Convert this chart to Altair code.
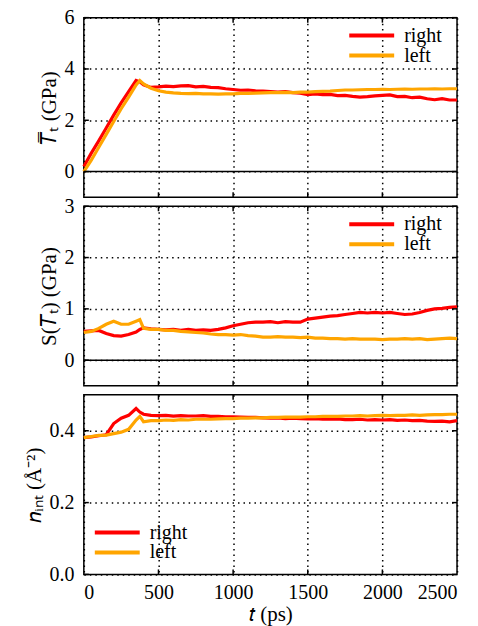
import altair as alt
import pandas as pd

FONT = "Liberation Serif"

t = [0, 50, 100, 150, 200, 250, 300, 350, 375, 400, 450, 500, 550, 600, 650, 700,
     750, 800, 850, 900, 950, 1000, 1050, 1100, 1150, 1200, 1250, 1300, 1350, 1400,
     1450, 1500, 1550, 1600, 1650, 1700, 1750, 1800, 1850, 1900, 1950, 2000, 2050,
     2100, 2150, 2200, 2250, 2300, 2350, 2400, 2450, 2500]

T_right = [0.2, 0.72, 1.2, 1.7, 2.2, 2.68, 3.12, 3.55, 3.5, 3.38, 3.28, 3.3, 3.33, 3.31,
           3.34, 3.35, 3.3, 3.32, 3.28, 3.27, 3.23, 3.2, 3.17, 3.18, 3.15, 3.14, 3.12,
           3.1, 3.12, 3.08, 3.06, 3.0, 3.03, 3.0, 3.01, 2.96, 2.97, 2.93, 2.9, 2.92,
           2.95, 2.97, 2.99, 2.92, 2.93, 2.88, 2.9, 2.84, 2.8, 2.84, 2.79, 2.79]
T_left = [0.0, 0.45, 0.95, 1.45, 1.95, 2.45, 2.9, 3.38, 3.55, 3.42, 3.25, 3.15, 3.1,
          3.07, 3.05, 3.04, 3.05, 3.03, 3.03, 3.02, 3.03, 3.03, 3.05, 3.05, 3.06, 3.07,
          3.08, 3.08, 3.09, 3.08, 3.1, 3.1, 3.12, 3.13, 3.14, 3.16, 3.18, 3.18, 3.19,
          3.2, 3.2, 3.21, 3.2, 3.21, 3.22, 3.21, 3.22, 3.22, 3.23, 3.22, 3.23, 3.23]

S_right = [0.56, 0.57, 0.58, 0.52, 0.48, 0.47, 0.5, 0.55, 0.6, 0.63, 0.61, 0.6, 0.59,
           0.6, 0.58, 0.6, 0.58, 0.59, 0.58, 0.6, 0.63, 0.67, 0.7, 0.73, 0.74, 0.74,
           0.75, 0.73, 0.75, 0.74, 0.74, 0.8, 0.82, 0.84, 0.86, 0.87, 0.89, 0.91, 0.93,
           0.92, 0.93, 0.92, 0.93, 0.91, 0.89, 0.9, 0.93, 0.97, 1.0, 1.01, 1.03, 1.04]
S_left = [0.54, 0.56, 0.62, 0.7, 0.76, 0.7, 0.7, 0.76, 0.79, 0.62, 0.6, 0.6, 0.58, 0.58,
          0.56, 0.55, 0.54, 0.53, 0.51, 0.5, 0.5, 0.49, 0.5, 0.48, 0.47, 0.45, 0.45,
          0.46, 0.45, 0.45, 0.44, 0.45, 0.43, 0.43, 0.42, 0.42, 0.41, 0.42, 0.41, 0.41,
          0.41, 0.4, 0.41, 0.41, 0.42, 0.41, 0.42, 0.4, 0.41, 0.42, 0.43, 0.42]

n_right = [0.381, 0.383, 0.386, 0.389, 0.42, 0.435, 0.443, 0.462, 0.452, 0.446, 0.443,
           0.442, 0.443, 0.441, 0.442, 0.441, 0.441, 0.442, 0.44, 0.44, 0.439, 0.439,
           0.438, 0.437, 0.437, 0.436, 0.435, 0.436, 0.434, 0.435, 0.434, 0.433, 0.434,
           0.432, 0.432, 0.433, 0.431, 0.431, 0.432, 0.43, 0.431, 0.43, 0.431, 0.429,
           0.43, 0.428, 0.429, 0.427, 0.426, 0.427, 0.425, 0.428]
n_left = [0.381, 0.384, 0.387, 0.388, 0.392, 0.396, 0.404, 0.43, 0.44, 0.425, 0.428,
          0.428, 0.43, 0.429, 0.431, 0.43, 0.432, 0.432, 0.432, 0.433, 0.434, 0.434,
          0.435, 0.435, 0.436, 0.436, 0.437, 0.437, 0.438, 0.438, 0.438, 0.439, 0.439,
          0.44, 0.44, 0.44, 0.441, 0.441, 0.442, 0.441, 0.442, 0.443, 0.442, 0.443,
          0.443, 0.444, 0.443, 0.444, 0.445, 0.445, 0.446, 0.446]

series = ["right", "left"]
colors = ["#ff0000", "#ffa500"]
x_ticks = [0, 500, 1000, 1500, 2000, 2500]
x_inner = [500, 1000, 1500, 2000]

W, H = 374, 180

AX = dict(labelFont=FONT, labelFontSize=20, labelColor="black",
          titleFont=FONT, titleFontSize=21, titleFontWeight="normal", titleColor="black",
          gridColor="black", gridOpacity=1, gridWidth=1.5, gridDash=[1.5, 4],
          ticks=False, domain=False, grid=True)


def long_df(r, l):
    return pd.DataFrame({
        "t": t + t,
        "v": r + l,
        "side": ["right"] * len(t) + ["left"] * len(t),
        "ord": [0] * len(t) + [1] * len(t),
    })


def panel(r, l, ytitle, domain, yticks, fmt, lx, ly, bottom, zero_line):
    df = long_df(r, l)
    if bottom:
        xaxis = alt.Axis(values=x_ticks, format="d", title="𝑡 (ps)",
                         labelPadding=8, titlePadding=1, **AX)
    else:
        xaxis = alt.Axis(values=x_ticks, labels=False, title=None, **AX)
    x = alt.X("t:Q", scale=alt.Scale(domain=[0, 2500], nice=False, zero=False), axis=xaxis)
    y = alt.Y("v:Q", scale=alt.Scale(domain=domain, nice=False, zero=False),
              axis=alt.Axis(values=yticks, format=fmt, title=ytitle,
                            labelPadding=10, titlePadding=4, **AX))
    lines = alt.Chart(df).mark_line(strokeWidth=3.2).encode(
        x=x, y=y,
        color=alt.Color("side:N",
                        scale=alt.Scale(domain=series, range=colors),
                        sort=series,
                        legend=alt.Legend(orient="none", legendX=lx, legendY=ly, title=None,
                                          symbolType="stroke", symbolSize=2025,
                                          symbolStrokeWidth=4, labelFont=FONT,
                                          labelFontSize=20, clipHeight=20, labelOffset=8,
                                          padding=0, rowPadding=0, symbolOpacity=1)),
        order=alt.Order("ord:Q"),
    )
    layers = []
    if zero_line:
        layers.append(alt.Chart(pd.DataFrame({"v": [0]})).mark_rule(
            color="black", strokeWidth=1.5).encode(y="v:Q"))
    xt = pd.DataFrame({"t": x_inner})
    yt = pd.DataFrame({"v": yticks})
    layers.append(alt.Chart(xt).mark_rule(color="black", strokeWidth=1.5).encode(
        x="t:Q", y=alt.value(0), y2=alt.value(5)))
    layers.append(alt.Chart(xt).mark_rule(color="black", strokeWidth=1.5).encode(
        x="t:Q", y=alt.value(H - 5), y2=alt.value(H)))
    layers.append(alt.Chart(yt).mark_rule(color="black", strokeWidth=1.5).encode(
        y="v:Q", x=alt.value(0), x2=alt.value(5)))
    layers.append(alt.Chart(yt).mark_rule(color="black", strokeWidth=1.5).encode(
        y="v:Q", x=alt.value(W - 5), x2=alt.value(W)))
    return alt.layer(lines, *layers).properties(width=W, height=H)


p1 = panel(T_right, T_left, "𝑇̅ₜ (GPa)", [-1, 6], [0, 2, 4, 6], "d", 264, 8, False, True)
p2 = panel(S_right, S_left, "S(𝑇ₜ) (GPa)", [-0.5, 3], [0, 1, 2, 3], "d", 264, 8, False, True)
p3 = panel(n_right, n_left, "𝑛ᵢₙₜ (Å⁻²)", [0, 0.5], [0.0, 0.2, 0.4], ".1f", 9, 128, True, False)

chart = alt.vconcat(p1, p2, p3, spacing=9, bounds="flush").resolve_legend(
    color="independent"
).properties(
    padding={"left": 15, "top": -2, "right": 5, "bottom": 0},
).configure(
    font=FONT
).configure_view(
    stroke="black", strokeWidth=1.5
)

chart.save("out.html", embed_options={"renderer": "svg", "actions": False})
